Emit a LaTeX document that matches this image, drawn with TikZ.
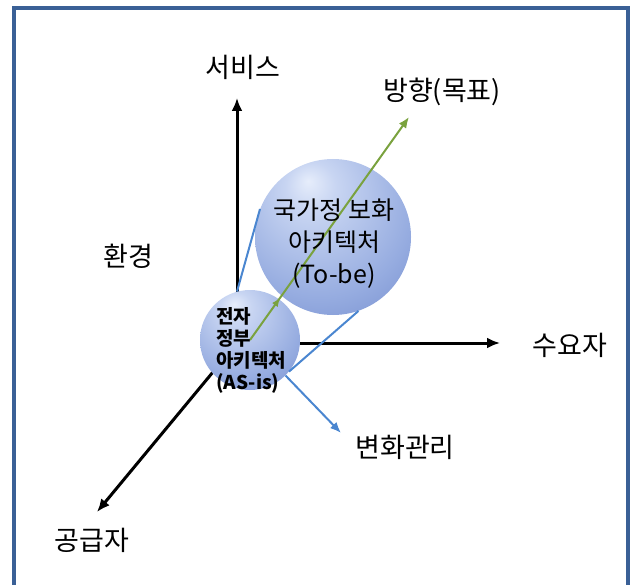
\documentclass[tikz,border=0pt]{standalone}
\usepackage{fontspec}
\setmainfont{Noto Sans CJK KR}
\usepackage{tikz}
\usetikzlibrary{arrows.meta,decorations.markings}
\tikzset{>={Latex[width=11pt,length=13pt]}}

\definecolor{framecol}{RGB}{58,96,150}
\definecolor{conecol}{RGB}{74,134,208}
\definecolor{goalcol}{RGB}{122,162,62}
\definecolor{sphA}{RGB}{230,237,251}
\definecolor{sphB}{RGB}{200,213,242}
\definecolor{sphC}{RGB}{150,172,224}
\definecolor{sphD}{RGB}{100,126,198}
\definecolor{sphE}{RGB}{66,88,162}
\pgfdeclareradialshading{sphere}{\pgfpoint{-8bp}{18bp}}{color(0bp)=(sphA); color(8bp)=(sphB); color(30bp)=(sphC); color(52bp)=(sphD); color(72bp)=(sphE)}

\tikzset{
	ball/.style={circle, shade, shading=sphere, inner sep=0pt},
	lbl/.style={font=\fontsize{27}{30}\selectfont},
	axis/.style={line width=3pt, ->},
	cone/.style={line width=2pt, draw=conecol},
	goal/.style={line width=2pt, draw=goalcol, -{Latex[width=9pt,length=11pt]},
		postaction={decorate}, decoration={markings,
		mark=at position 0.19 with {\arrow{Latex[width=7pt,length=9pt]}}}}
}

\begin{document}
\begin{tikzpicture}[x=1pt,y=-1pt]
					\useasboundingbox (0,0) rectangle (636,585);
					\draw[line width=4pt, draw=framecol] (14,8) rectangle (628,594);
					% axes and labels
					\coordinate (o) at (237,343);
					\coordinate (svctip) at (237,98);
					\coordinate (demtip) at (500,343);
					\coordinate (suptip) at (97,512);
					\coordinate (chgtip) at (341,433);
					\coordinate (goaltip) at (409,117);
					\node[lbl] (svc) at (243,67) {서비스};
					\node[lbl] (goal) at (442,92) {방향(목표)};
					\node[lbl] (env) at (128,256) {환경};
					\node[lbl] (dem) at (570,345) {수요자};
					\node[lbl] (sup) at (92,540) {공급자};
					\node[lbl] (chg) at (405,447) {변화관리};
					\draw[axis] (o) -- (svctip);
					\draw[axis] (o) -- (demtip);
					\draw[axis] (o) -- (suptip);
					% spheres
					\node[ball, minimum size=156pt] (tobe) at (333,237) {};
					\node[ball, minimum size=100pt] (asis) at (250,340) {};
					\draw[cone] (asis.105) -- (tobe.159);
					\draw[cone] (asis.-39) -- (tobe.-71);
					\draw[cone, -{Latex[width=9pt,length=11pt]}] (asis.-45) -- (chgtip);
					\draw[goal] (asis.center) -- (goaltip);
					\node[align=center, font=\fontsize{25}{32}\selectfont] (tobetext) at (334,244) {국가정 보화\\아키텍처\\(To-be)};
					\node[align=left, font=\bfseries\fontsize{19}{22}\selectfont] (asistext) at (251,350) {전자\\정부\\아키텍처\\(AS-is)};
				\end{tikzpicture}
\end{document}
